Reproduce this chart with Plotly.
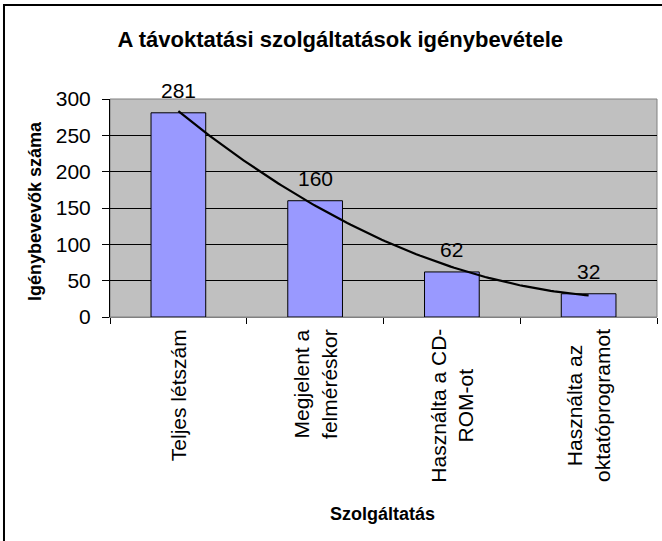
import numpy as np
import plotly.graph_objects as go

# Chart data
categories = ["Teljes létszám", "Megjelent a<br>felméréskor",
              "Használta a CD-<br>ROM-ot", "Használta az<br>oktatóprogramot"]
values = [281, 160, 62, 32]
y_ticks = [0, 50, 100, 150, 200, 250, 300]

FONT = "Liberation Sans, Arial, sans-serif"
positions = list(range(len(categories)))

# second-order polynomial trendline (as in the Excel original)
coef = np.polyfit(np.array(positions) + 1, values, 2)
trend_x = np.linspace(0, len(values) - 1, 120)
trend_y = np.polyval(coef, trend_x + 1)

fig = go.Figure()
fig.add_trace(go.Bar(
    x=positions, y=values, width=0.4,
    marker=dict(color="#9999FF", line=dict(color="#000000", width=1)),
    hoverinfo="y", showlegend=False,
))
fig.add_trace(go.Scatter(
    x=trend_x, y=trend_y, mode="lines",
    line=dict(color="#000000", width=2.2),
    hoverinfo="skip", showlegend=False, cliponaxis=False,
))
# invisible trace on the boundary axis so it gets drawn
fig.add_trace(go.Scatter(x=[-0.5], y=[0], xaxis="x2", mode="markers",
                         marker=dict(opacity=0), hoverinfo="skip",
                         showlegend=False))

# data labels above the bars
for p, v in zip(positions, values):
    fig.add_annotation(x=p, y=v, text=str(v), showarrow=False,
                       yanchor="bottom", yshift=9,
                       font=dict(family=FONT, size=21, color="#000000"))

# category labels, rotated, centred per line like Excel does
for p, c in zip(positions, categories):
    fig.add_annotation(x=p, y=-0.045, xref="x", yref="paper", text=c,
                       showarrow=False, textangle=-90, align="center",
                       xanchor="center", yanchor="top",
                       font=dict(family=FONT, size=21, color="#000000"))

# axis titles
fig.add_annotation(xref="paper", yref="paper", x=0.498, y=-0.905,
                   text="<b>Szolgáltatás</b>", showarrow=False,
                   xanchor="center", yanchor="middle",
                   font=dict(family=FONT, size=18, color="#000000"))
fig.add_annotation(xref="paper", yref="paper", x=-0.137, y=0.486,
                   text="<b>Igénybevevők száma</b>", showarrow=False,
                   textangle=-90, xanchor="center", yanchor="middle",
                   font=dict(family=FONT, size=18, color="#000000"))

# plot area border and outer chart border
fig.add_shape(type="rect", xref="paper", yref="paper", x0=0, x1=1, y0=0, y1=1,
              line=dict(color="#808080", width=1), layer="below")
fig.add_shape(type="rect", xref="paper", yref="paper",
              x0=-0.1938, x1=1.05, y0=-1.1, y1=1.431,
              line=dict(color="#000000", width=2))

fig.update_layout(
    width=662, height=541,
    margin=dict(l=110, r=5, t=99, b=224),
    paper_bgcolor="#FFFFFF",
    plot_bgcolor="#C0C0C0",
    font=dict(family=FONT, color="#000000"),
    title=dict(text="<b>A távoktatási szolgáltatások igénybevétele</b>",
               x=0.514, xanchor="center", y=0.928, yanchor="middle",
               font=dict(family=FONT, size=22, color="#000000")),
    xaxis=dict(
        range=[-0.5, 3.5], tickvals=positions, showticklabels=False,
        ticks="", showgrid=False, zeroline=False,
        showline=True, linecolor="#808080", linewidth=1,
    ),
    xaxis2=dict(
        range=[-0.5, 3.5], overlaying="x", side="bottom",
        tickvals=[-0.5, 0.5, 1.5, 2.5, 3.5], showticklabels=False,
        ticks="outside", ticklen=6, tickcolor="#000000", tickwidth=1,
        showgrid=False, zeroline=False, showline=False,
    ),
    yaxis=dict(
        range=[0, 300], tickvals=y_ticks,
        ticks="outside", ticklen=7, tickcolor="#000000",
        showline=True, linecolor="#000000", linewidth=1,
        showgrid=True, gridcolor="#000000", gridwidth=1, zeroline=False,
        ticklabelstandoff=7,
        tickfont=dict(family=FONT, size=21, color="#000000"),
    ),
    bargap=0.6,
)

# drop the browser's default 8px body margin so the figure sits at 0,0
fig.write_html("out.html", config={"displayModeBar": False},
               post_script="document.body.style.margin='0';")
